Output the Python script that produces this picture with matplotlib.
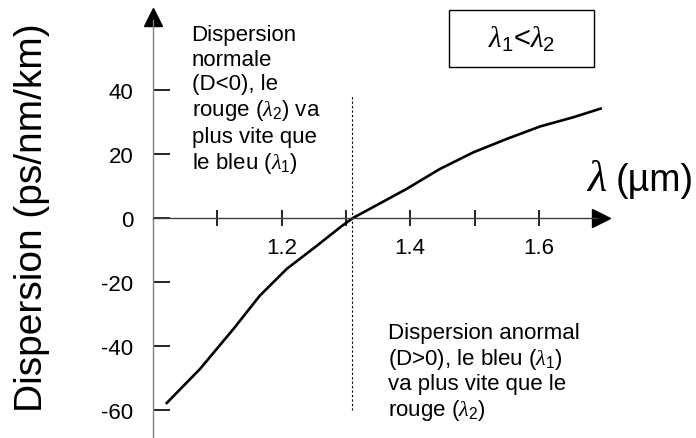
import matplotlib
matplotlib.use("Agg")
import matplotlib.pyplot as plt
import matplotlib.patches as mpatches

plt.rcParams.update({
    "font.family": ["Liberation Sans", "DejaVu Sans"],
    "mathtext.fontset": "custom",
    "mathtext.rm": "Liberation Sans",
    "mathtext.it": "Liberation Serif:italic",
})

# dispersion curve
wavelength = [1.02, 1.073, 1.125, 1.166, 1.208, 1.254, 1.293, 1.311,
              1.3945, 1.446, 1.498, 1.550, 1.602, 1.654, 1.698]
dispersion = [-58.1, -47.2, -34.7, -24.3, -15.9, -8.8, -2.6, 0.0,
              9.1, 15.3, 20.5, 24.7, 28.6, 31.5, 34.3]

x_major = [1.2, 1.4, 1.6]
x_minor = [1.1, 1.3, 1.5]
y_ticks = [-60, -40, -20, 0, 20, 40]
lambda_zero = 1.31

fig = plt.figure(figsize=(6.96, 4.39), dpi=100)
ax = fig.add_axes([0, 0, 1, 1])
# axes fill the figure: 643 px per um, 3.2 px per ps/nm/km
ax.set_xlim(1.0 - 153 / 643, 1.0 + 543 / 643)
ax.set_ylim(-220 / 3.2, 219 / 3.2)
ax.patch.set_visible(False)

for s in ["top", "right"]:
    ax.spines[s].set_visible(False)
ax.spines["left"].set_position(("data", 1.0))
ax.spines["bottom"].set_position(("data", 0))
ax.spines["left"].set_bounds(-68.5, 62)
ax.spines["bottom"].set_bounds(1.0, 1.69)
ax.spines["left"].set_color("#808080")
ax.spines["bottom"].set_color("#404040")
ax.spines["left"].set_linewidth(1.0)
ax.spines["bottom"].set_linewidth(1.0)

# arrow heads
ax.plot([1.6975], [0], marker=">", ms=12.5, color="black", clip_on=False)
ax.plot([1.0], [62.7], marker="^", ms=12.5, color="black", clip_on=False)

ax.set_xticks(x_major)
ax.set_xticklabels([f"{v:.1f}" for v in x_major], fontsize=16)
ax.set_xticks(x_minor, minor=True)
ax.tick_params(axis="x", which="both", direction="inout", length=11.5,
               width=1.2, color="black", pad=8)
ax.set_yticks(y_ticks)
ax.set_yticklabels([str(v) for v in y_ticks], fontsize=16)
ax.tick_params(axis="y", direction="in", length=12.5, width=1.2,
               color="black", pad=14)

ax.plot(wavelength, dispersion, color="black", lw=1.9,
        solid_capstyle="butt", solid_joinstyle="round")
ax.vlines(lambda_zero, -60, 38, colors="black", linestyles=(0, (2, 2)), lw=0.8)

ax.text(1.060, 60.5,
        "Dispersion\nnormale\n(D<0), le\nrouge ($\\lambda_2$) va\nplus vite que\nle bleu ($\\lambda_1$)",
        fontsize=16, ha="left", va="top", linespacing=1.2)
ax.text(1.366, -32.5,
        "Dispersion anormal\n(D>0), le bleu ($\\lambda_1$)\nva plus vite que le\nrouge ($\\lambda_2$)",
        fontsize=16, ha="left", va="top", linespacing=1.15)

ax.add_patch(mpatches.Rectangle((1.460, 47.2), 0.226, 17.8, fill=False,
                                edgecolor="black", lw=1.0))
ax.text(1.573, 56.0, "$\\lambda_1$<$\\lambda_2$", fontsize=21,
        ha="center", va="center")

ax.text(1.674, 8.9, "$\\lambda$", fontsize=32, ha="left", va="baseline")
ax.text(1.72, 8.9, "(µm)", fontsize=27, ha="left", va="baseline")

fig.text(32 / 696, 1 - 218 / 439, "Dispersion (ps/nm/km)", fontsize=28,
         rotation=90, ha="center", va="center")

fig.savefig("out.png", dpi=100)
